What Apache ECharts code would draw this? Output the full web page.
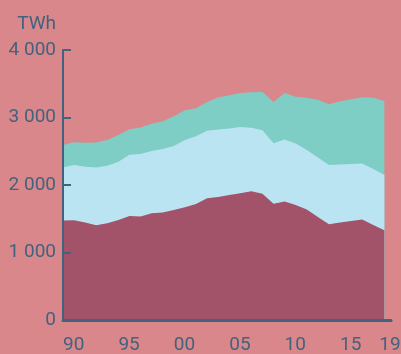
<!DOCTYPE html>
<html>
<head>
<meta charset="utf-8">
<script src="https://cdn.jsdelivr.net/npm/echarts@6/dist/echarts.min.js"></script>
<style>
  html, body { margin: 0; padding: 0; background: #d9878b; }
  #chart { width: 401px; height: 354px; }
</style>
</head>
<body>
<div id="chart"></div>
<script>
// Annual electricity generation, TWh, split into three sources (stacked)
var years = [1990, 1991, 1992, 1993, 1994, 1995, 1996, 1997, 1998, 1999,
             2000, 2001, 2002, 2003, 2004, 2005, 2006, 2007, 2008, 2009,
             2010, 2011, 2012, 2013, 2014, 2015, 2016, 2017, 2018, 2019];
var baseSource = [1473, 1479, 1443, 1405, 1434, 1483, 1542, 1532, 1582, 1594,
                  1631, 1671, 1719, 1804, 1823, 1852, 1877, 1908, 1872, 1724,
                  1756, 1705, 1638, 1527, 1420, 1446, 1468, 1490, 1409, 1328];
var middleSource = [788, 816, 827, 856, 851, 861, 908, 926, 920, 938,
                    945, 994, 1005, 1001, 1000, 986, 984, 941, 940, 896,
                    919, 908, 879, 879, 875, 857, 842, 830, 827, 820];
var topSource = [330, 340, 355, 367, 380, 395, 377, 394, 406, 413,
                 443, 443, 413, 425, 472, 491, 502, 525, 566, 610,
                 688, 694, 776, 858, 901, 937, 960, 980, 1057, 1097];
var xTickYears = [1990, 1995, 2000, 2005, 2010, 2015, 2019];
var yUnit = 'TWh';

var ink = '#42627d';
var font = 'Roboto';

// Running totals: each band is filled from zero up to its cumulative
// value; later (lower) bands are painted over the earlier ones.
function cumulative(layers) {
  return years.map(function (y, i) {
    var s = 0;
    layers.forEach(function (arr) { s += arr[i]; });
    return [y, s];
  });
}
function areaSeries(name, layers, color, z) {
  return {
    name: name,
    type: 'line',
    data: cumulative(layers),
    symbol: 'none',
    z: z,
    lineStyle: { width: 0 },
    areaStyle: { color: color, opacity: 1, origin: 'start' },
    itemStyle: { color: color },
    silent: true
  };
}

var chart = echarts.init(document.getElementById('chart'), null, { renderer: 'canvas' });
chart.setOption({
  backgroundColor: '#d9878b',
  animation: false,
  grid: { left: 63, right: 10, top: 50, bottom: 34, containLabel: false, outerBoundsMode: 'none' },
  xAxis: {
    type: 'value',
    min: 1990,
    max: 2019.6,
    interval: 5,
    z: 10,
    splitLine: { show: false },
    axisTick: { show: false },
    axisLine: { show: true, lineStyle: { color: ink, width: 3 } },
    axisLabel: {
      customValues: xTickYears,
      color: ink,
      fontFamily: font,
      fontSize: 19,
      align: 'left',
      margin: 16,
      formatter: function (v) {
        var s = String(v).slice(2);
        return v === 2019 ? '{e|' + s + '}' : s;
      },
      rich: {
        e: { color: ink, fontFamily: font, fontSize: 19, padding: [0, 0, 0, -5] }
      }
    }
  },
  yAxis: {
    type: 'value',
    min: 0,
    max: 4000,
    interval: 1000,
    z: 10,
    name: yUnit,
    nameLocation: 'end',
    nameGap: 16,
    nameTextStyle: { color: ink, fontFamily: font, fontSize: 19, align: 'right', padding: [0, 7, 0, 0] },
    splitLine: { show: false },
    axisLine: { show: true, lineStyle: { color: ink, width: 2 } },
    axisTick: { show: true, inside: true, length: 8, lineStyle: { color: ink, width: 2 } },
    axisLabel: {
      color: ink,
      fontFamily: font,
      fontSize: 19,
      margin: 7,
      formatter: function (v) {
        return String(v).replace(/\B(?=(\d{3})+(?!\d))/g, ' ');
      }
    }
  },
  series: [
    areaSeries('top', [baseSource, middleSource, topSource], '#7ecec5', 2),
    areaSeries('middle', [baseSource, middleSource], '#bbe4f3', 3),
    areaSeries('base', [baseSource], '#a25269', 4)
  ]
});
</script>
</body>
</html>
